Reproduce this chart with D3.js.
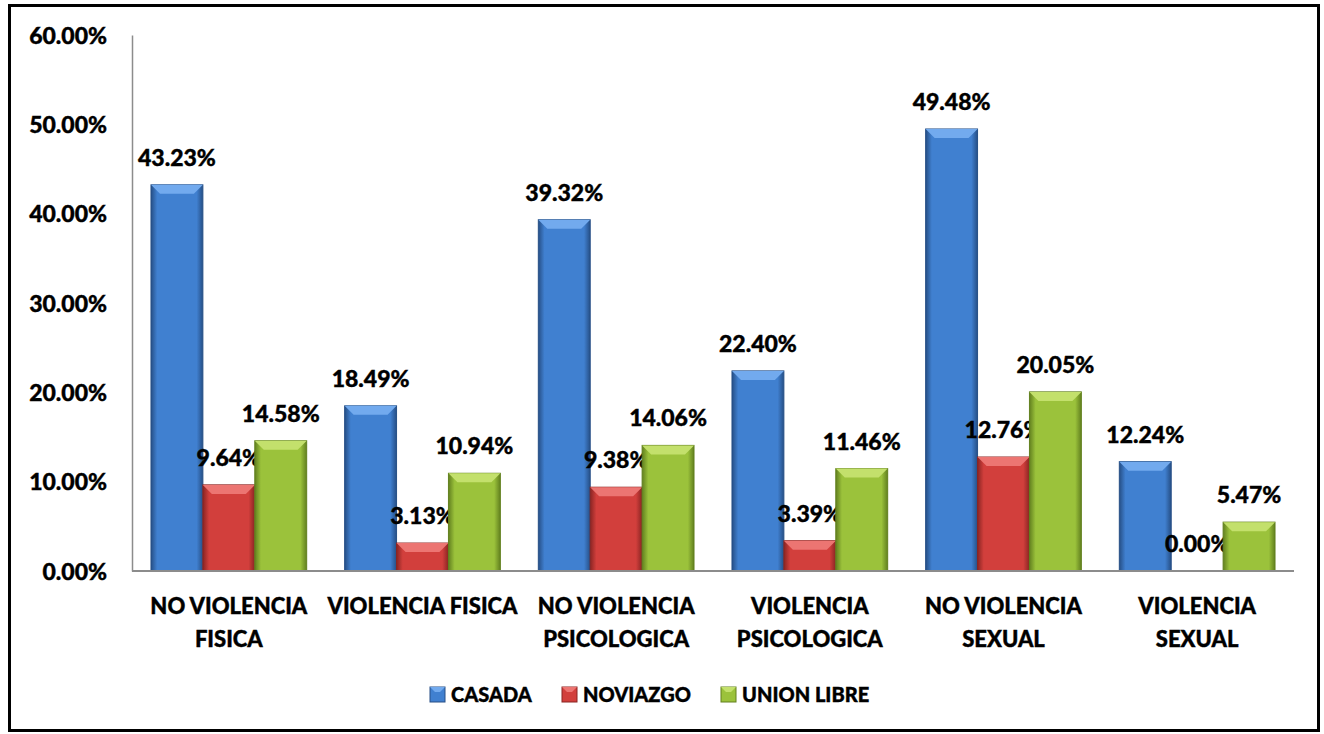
<!DOCTYPE html>
<html>
<head>
<meta charset="utf-8">
<script src="https://d3js.org/d3.v7.min.js"></script>
<style>
  body { margin: 0; background: #fff; }
  text { font-family: Lato, "Open Sans", sans-serif; font-weight: 900; fill: #000; stroke: #000; stroke-width: 0.4px; }
</style>
</head>
<body>
<div id="chart"></div>
<script>
var svgWidth = 1324;
var svgHeight = 734;

// data
var categories = [
  ["NO VIOLENCIA", "FISICA"],
  ["VIOLENCIA FISICA"],
  ["NO VIOLENCIA", "PSICOLOGICA"],
  ["VIOLENCIA", "PSICOLOGICA"],
  ["NO VIOLENCIA", "SEXUAL"],
  ["VIOLENCIA", "SEXUAL"]
];
var seriesNames = ["CASADA", "NOVIAZGO", "UNION LIBRE"];
var casada = [43.23, 18.49, 39.32, 22.40, 49.48, 12.24];
var noviazgo = [9.64, 3.13, 9.38, 3.39, 12.76, 0.00];
var unionLibre = [14.58, 10.94, 14.06, 11.46, 20.05, 5.47];
var yTicks = [0, 10, 20, 30, 40, 50, 60];

var colors = {
  "CASADA": { base: "#4080d0", light: "#72aaee", dark: "#264f86" },
  "NOVIAZGO": { base: "#d23f3c", light: "#ec7572", dark: "#8a2523" },
  "UNION LIBRE": { base: "#9bc23b", light: "#c3e06c", dark: "#62801f" }
};

var margin = { top: 35, right: 30, bottom: 163, left: 132 };
var width = 1294 - margin.left;
var height = 571 - margin.top;

var svg = d3.select("#chart")
  .append("svg")
  .attr("width", svgWidth)
  .attr("height", svgHeight);

// outer frame
svg.append("rect")
  .attr("x", 9.5)
  .attr("y", 5.5)
  .attr("width", 1309)
  .attr("height", 725)
  .attr("fill", "#fff")
  .attr("stroke", "#000")
  .attr("stroke-width", 3);

var defs = svg.append("defs");
seriesNames.forEach(function(name, i) {
  var c = colors[name];
  var g = defs.append("linearGradient")
    .attr("id", "grad" + i)
    .attr("x1", "0").attr("x2", "1").attr("y1", "0").attr("y2", "0");
  g.append("stop").attr("offset", "0%").attr("stop-color", c.dark);
  g.append("stop").attr("offset", "12%").attr("stop-color", c.base);
  g.append("stop").attr("offset", "88%").attr("stop-color", c.base);
  g.append("stop").attr("offset", "100%").attr("stop-color", c.dark);
});

var chartGroup = svg.append("g")
  .attr("transform", `translate(${margin.left}, ${margin.top})`);

var data = categories.map(function(c, i) {
  return { idx: i, label: c, values: [casada[i], noviazgo[i], unionLibre[i]] };
});

var x0 = d3.scaleBand()
  .domain(d3.range(categories.length))
  .range([0, width])
  .paddingInner(0.196)
  .paddingOuter(0.098);

var x1 = d3.scaleBand()
  .domain(d3.range(seriesNames.length))
  .range([0, x0.bandwidth()]);

var yScale = d3.scaleLinear()
  .domain([0, 60])
  .range([height, 0]);

// y axis labels
var leftAxis = d3.axisLeft(yScale)
  .tickValues(yTicks)
  .tickSize(0)
  .tickPadding(25)
  .tickFormat(d => d.toFixed(2) + "%");

var yAxis = chartGroup.append("g").call(leftAxis);
yAxis.select(".domain").attr("stroke", "#8c8c8c").attr("stroke-width", 1.5);
yAxis.selectAll("text")
  .style("font-size", "23px")
  .style("font-family", "Lato, sans-serif")
  .attr("dy", "0.35em");

var groups = chartGroup.selectAll("g.cat")
  .data(data)
  .enter()
  .append("g")
  .attr("class", "cat")
  .attr("transform", d => `translate(${x0(d.idx)}, 0)`);

var bars = groups.selectAll("g.bar")
  .data(d => d.values.map((v, j) => ({ v: v, s: j })))
  .enter()
  .append("g")
  .attr("class", "bar");

var bevel = 9;
bars.filter(d => d.v > 0).each(function(d) {
  var g = d3.select(this);
  var bx = x1(d.s);
  var bw = x1.bandwidth();
  var top = yScale(d.v);
  var c = colors[seriesNames[d.s]];
  g.append("rect")
    .attr("x", bx)
    .attr("y", top)
    .attr("width", bw)
    .attr("height", height - top)
    .attr("fill", "url(#grad" + d.s + ")")
    .attr("stroke", c.dark)
    .attr("stroke-width", 1);
  // top bevel
  g.append("path")
    .attr("d", `M${bx},${top} L${bx + bw},${top} L${bx + bw - bevel},${top + bevel} L${bx + bevel},${top + bevel} Z`)
    .attr("fill", c.light);
});

// value labels
bars.append("text")
  .attr("x", d => x1(d.s) + x1.bandwidth() / 2)
  .attr("y", d => yScale(d.v) - 27)
  .attr("dy", "0.35em")
  .attr("text-anchor", "middle")
  .style("font-size", "23px")
  .text(d => d.v.toFixed(2) + "%");

// x axis line
chartGroup.append("line")
  .attr("x1", 0)
  .attr("x2", width)
  .attr("y1", height)
  .attr("y2", height)
  .attr("stroke", "#8c8c8c")
  .attr("stroke-width", 2);

// category labels
var catLabels = chartGroup.selectAll("text.cat-label")
  .data(data)
  .enter()
  .append("text")
  .attr("class", "cat-label")
  .attr("x", d => x0(d.idx) + x0.bandwidth() / 2)
  .attr("y", height + 35)
  .attr("text-anchor", "middle")
  .style("font-size", "22px");

catLabels.selectAll("tspan")
  .data(d => d.label)
  .enter()
  .append("tspan")
  .attr("x", function() { return d3.select(this.parentNode).attr("x"); })
  .attr("dy", (d, i) => i === 0 ? "0.35em" : "33px")
  .text(d => d);

// legend
var legendX = [430, 562, 721];
var legend = svg.append("g");
seriesNames.forEach(function(name, i) {
  var c = colors[name];
  legend.append("rect")
    .attr("x", legendX[i])
    .attr("y", 687)
    .attr("width", 15)
    .attr("height", 15)
    .attr("fill", c.base)
    .attr("stroke", c.dark)
    .attr("stroke-width", 1);
  legend.append("path")
    .attr("d", `M${legendX[i]},687 L${legendX[i] + 15},687 L${legendX[i] + 10},692 L${legendX[i] + 5},692 Z`)
    .attr("fill", c.light);
  legend.append("text")
    .attr("x", legendX[i] + 21)
    .attr("y", 694.5)
    .attr("dy", "0.35em")
    .style("font-size", "20px")
    .text(name);
});
</script>
</body>
</html>
